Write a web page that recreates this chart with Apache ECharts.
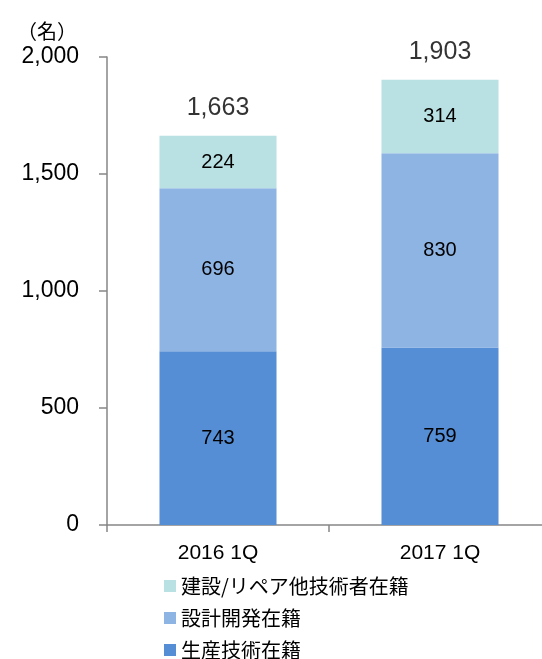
<!DOCTYPE html>
<html>
  <head>
    <meta charset="utf-8" />
    <title>在籍人数</title>
    <script src="https://cdn.jsdelivr.net/npm/echarts@6.0.0/dist/echarts.min.js"></script>
  </head>
  <body style="margin:0">
    <div id="main" style="width: 542px;height:659px;"></div>
    <script type="text/javascript">
      // データ
      var categories = ['2016 1Q', '2017 1Q'];
      var seisan = [743, 759];       // 生産技術在籍
      var sekkei = [696, 830];       // 設計開発在籍
      var kensetsu = [224, 314];     // 建設/リペア他技術者在籍
      var totals = [1663, 1903];
      var yTicks = [0, 500, 1000, 1500, 2000];

      var chart = echarts.init(document.getElementById('main'));
      var latin = '"Liberation Sans", Arial, sans-serif';
      var jp = '"Noto Sans CJK JP", sans-serif';

      function fmt(v) {
        return v.toLocaleString('en-US');
      }

      var inLabel = {
        show: true,
        position: 'inside',
        color: '#000',
        fontFamily: latin,
        fontSize: 20
      };

      var option = {
        animation: false,
        title: {
          text: '（名）',
          left: 12,
          top: 16,
          textStyle: { fontFamily: jp, fontSize: 20, fontWeight: 'normal', color: '#000' }
        },
        grid: { left: 107, top: 57, height: 468, width: 444, outerBoundsMode: 'none' },
        legend: {
          orient: 'vertical',
          left: 164,
          top: 576,
          height: 120,
          padding: 0,
          itemWidth: 12,
          itemHeight: 12,
          itemGap: 12,
          icon: 'rect',
          data: ['建設/リペア他技術者在籍', '設計開発在籍', '生産技術在籍'],
          textStyle: { fontFamily: jp, fontSize: 20, lineHeight: 20, color: '#000' }
        },
        xAxis: {
          type: 'category',
          data: categories,
          axisLine: { lineStyle: { color: '#868686', width: 1.5 } },
          axisTick: { show: true, length: 7, interval: 0, lineStyle: { color: '#868686', width: 1.5 } },
          axisLabel: { color: '#000', fontFamily: latin, fontSize: 21, margin: 18 }
        },
        yAxis: {
          type: 'value',
          min: yTicks[0],
          max: yTicks[yTicks.length - 1],
          interval: 500,
          splitLine: { show: false },
          axisLine: { show: true, lineStyle: { color: '#868686', width: 1.5 } },
          axisTick: { show: true, length: 8, lineStyle: { color: '#868686', width: 1.5 } },
          axisLabel: {
            color: '#000', fontFamily: latin, fontSize: 23, margin: 28,
            formatter: function (v) { return fmt(v); }
          }
        },
        series: [
          {
            name: '生産技術在籍', type: 'bar', stack: 'total', barWidth: 117,
            itemStyle: { color: '#558ED5' },
            label: inLabel,
            data: seisan
          },
          {
            name: '設計開発在籍', type: 'bar', stack: 'total',
            itemStyle: { color: '#8EB4E3' },
            label: inLabel,
            data: sekkei
          },
          {
            name: '建設/リペア他技術者在籍', type: 'bar', stack: 'total',
            itemStyle: { color: '#B9E0E2' },
            label: inLabel,
            data: kensetsu
          },
          {
            name: 'total', type: 'scatter', symbolSize: 0,
            label: {
              show: true, position: 'top', distance: 15,
              color: '#000', fontFamily: latin, fontSize: 25,
              formatter: function (p) { return fmt(p.value); }
            },
            data: totals
          }
        ]
      };
      chart.setOption(option);
    </script>
  </body>
</html>
